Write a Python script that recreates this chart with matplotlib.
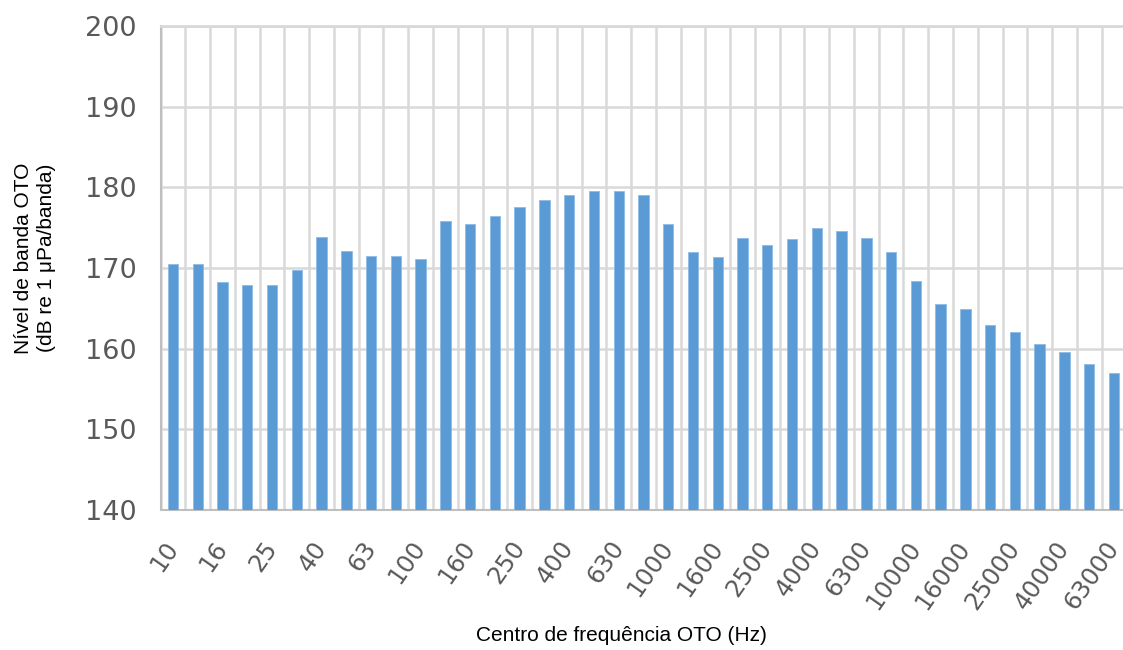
import matplotlib
matplotlib.use('Agg')
from matplotlib import pyplot as plt

# bandas de terço de oitava (Hz) e nível por banda
freqs = ['10', '12.5', '16', '20', '25', '31.5', '40', '50', '63', '80',
         '100', '125', '160', '200', '250', '315', '400', '500', '630', '800',
         '1000', '1250', '1600', '2000', '2500', '3150', '4000', '5000', '6300', '8000',
         '10000', '12500', '16000', '20000', '25000', '31500', '40000', '50000', '63000']
niveis = [170.5, 170.5, 168.3, 167.9, 167.9, 169.7, 173.9, 172.1, 171.5, 171.5,
          171.1, 175.8, 175.4, 176.5, 177.5, 178.4, 179.1, 179.5, 179.5, 179.1,
          175.4, 172.0, 171.4, 173.7, 172.9, 173.6, 175.0, 174.6, 173.7, 172.0,
          168.4, 165.5, 164.9, 162.9, 162.1, 160.6, 159.6, 158.1, 157.0]
yticks = [140, 150, 160, 170, 180, 190, 200]

fig = plt.figure(figsize=(11.23, 6.5), dpi=100)
ax = fig.add_axes([0.143, 0.2154, 0.860, 0.7446])

x = list(range(len(freqs)))
ax.bar(x, niveis, width=0.42, color='#5B9BD5', edgecolor='#8DBBE6', linewidth=0.6, zorder=3)

ax.set_xlim(-0.5, len(freqs) - 0.5)
ax.set_ylim(140, 200)
ax.set_yticks(yticks)
ax.tick_params(axis='y', length=0, pad=17, labelsize=19.5, labelcolor='#595959')

# linhas de grade verticais entre categorias
for i in range(len(freqs) + 1):
    ax.axvline(i - 0.5, color='#D9D9D9', lw=1.8, zorder=1)
ax.yaxis.grid(True, color='#D9D9D9', lw=1.8, zorder=1)
ax.set_axisbelow(True)

ax.spines['right'].set_visible(False)
ax.spines['top'].set_color('#D9D9D9')
ax.spines['top'].set_linewidth(2)
ax.spines['left'].set_color('#BFBFBF')
ax.spines['left'].set_linewidth(1.5)
ax.spines['bottom'].set_color('#BFBFBF')
ax.spines['bottom'].set_linewidth(1.5)

ax.set_xticks(x[::2])
ax.set_xticklabels(freqs[::2], rotation=55, ha='right', va='center',
                   rotation_mode='anchor', fontsize=17.5, color='#595959')
ax.tick_params(axis='x', length=0, pad=24)

fig.text(621 / 1123, 0.022, 'Centro de frequência OTO (Hz)', ha='center', va='center',
         fontsize=15, family='Liberation Sans')
fig.text(35 / 1123, 1 - 258 / 650, 'Nível de banda OTO\n(dB re 1 μPa/banda)',
         rotation=90, ha='center', va='center', multialignment='center',
         fontsize=15, family='Liberation Sans', linespacing=1.25)

fig.savefig('out.png', dpi=100)
